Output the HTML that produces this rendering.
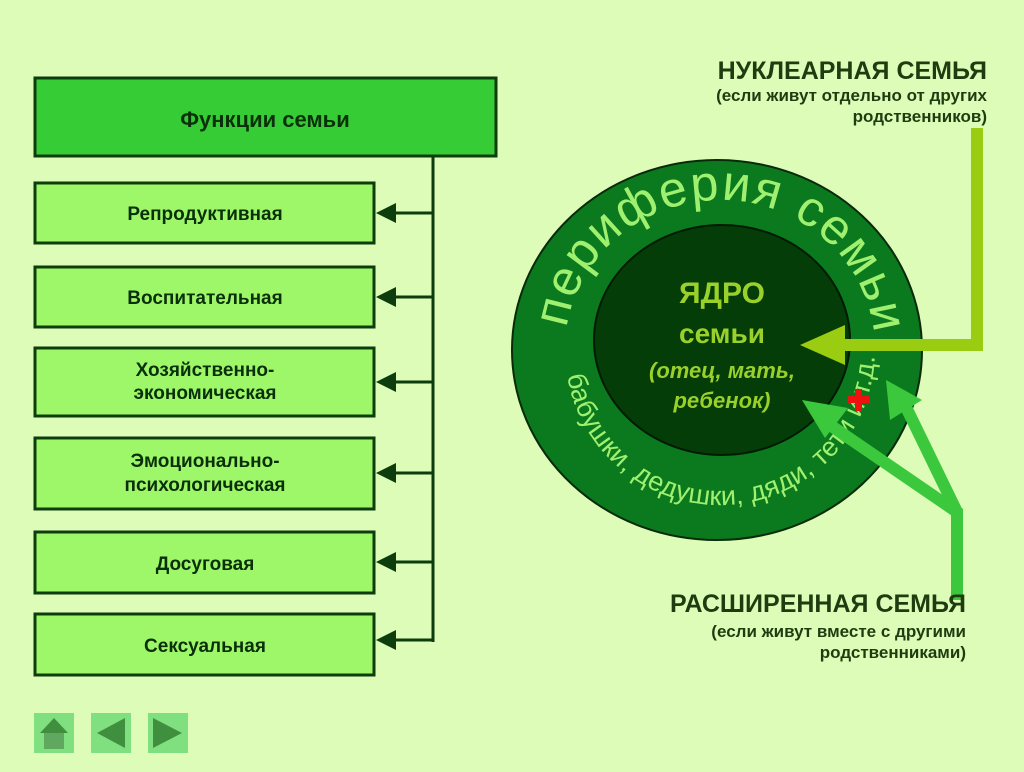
<!DOCTYPE html>
<html><head><meta charset="utf-8"><style>
body{margin:0;width:1024px;height:767px;overflow:hidden;background:#dcfcb8;font-family:"Liberation Sans",sans-serif}
</style></head><body>
<svg width="1024" height="767" viewBox="0 0 1024 767" xmlns="http://www.w3.org/2000/svg" font-family="Liberation Sans, sans-serif">
<rect width="1024" height="767" fill="#dcfcb8"/>
<rect x="35" y="78" width="461" height="78" fill="#36cc36" stroke="#0d3d0d" stroke-width="3"/>
<text x="265" y="127" text-anchor="middle" font-size="22" font-weight="bold" fill="#0a300a">Функции семьи</text>
<line x1="433" y1="156" x2="433" y2="642" stroke="#0d3d0d" stroke-width="3"/>
<g fill="#9ef768" stroke="#0d3d0d" stroke-width="3">
<rect x="35" y="183" width="339" height="60"/>
<rect x="35" y="267" width="339" height="60"/>
<rect x="35" y="348" width="339" height="68"/>
<rect x="35" y="438" width="339" height="71"/>
<rect x="35" y="532" width="339" height="61"/>
<rect x="35" y="614" width="339" height="61"/>
</g>
<g stroke="#0d3d0d" stroke-width="3">
<line x1="390" y1="213" x2="433" y2="213"/><line x1="390" y1="297" x2="433" y2="297"/>
<line x1="390" y1="382" x2="433" y2="382"/><line x1="390" y1="473" x2="433" y2="473"/>
<line x1="390" y1="562" x2="433" y2="562"/><line x1="390" y1="640" x2="433" y2="640"/>
</g>
<g fill="#0d3d0d">
<polygon points="376,213 396,203 396,223"/><polygon points="376,297 396,287 396,307"/>
<polygon points="376,382 396,372 396,392"/><polygon points="376,473 396,463 396,483"/>
<polygon points="376,562 396,552 396,572"/><polygon points="376,640 396,630 396,650"/>
</g>
<g font-size="19" font-weight="bold" fill="#0a300a" text-anchor="middle">
<text x="205" y="220">Репродуктивная</text>
<text x="205" y="304">Воспитательная</text>
<text x="205" y="376">Хозяйственно-</text><text x="205" y="399">экономическая</text>
<text x="205" y="467">Эмоционально-</text><text x="205" y="491">психологическая</text>
<text x="205" y="570">Досуговая</text>
<text x="205" y="652">Сексуальная</text>
</g>
<ellipse cx="717" cy="350" rx="205" ry="190" fill="#0b7a1e" stroke="#0a2a0a" stroke-width="2"/>
<ellipse cx="722" cy="340" rx="128" ry="115" fill="#043d08" stroke="#021a02" stroke-width="2"/>
<defs>
<path id="top" d="M565,350 A155,150 0 0 1 875,350"/>
<path id="bot" d="M566.5,371.6 A155,155 0 0 0 875,350"/>
</defs>
<text font-size="50" fill="#a0f070"><textPath href="#top" startOffset="22" textLength="440" lengthAdjust="spacing">периферия семьи</textPath></text>
<text font-size="27" fill="#a0f070"><textPath href="#bot" startOffset="4" textLength="455" lengthAdjust="spacing">бабушки, дедушки, дяди, тети и т.д.</textPath></text>
<g font-weight="bold" fill="#9ad02a" text-anchor="middle">
<text x="722" y="303" font-size="30">ЯДРО</text>
<text x="722" y="343" font-size="28">семьи</text>
<text x="722" y="378" font-size="22" font-style="italic">(отец, мать,</text>
<text x="722" y="408" font-size="22" font-style="italic">ребенок)</text>
</g>
<polyline points="977,128 977,345 842,345" fill="none" stroke="#9acd12" stroke-width="12"/>
<polygon points="800,345 845,325 845,365" fill="#9acd12"/>
<g stroke="#3cc83c" stroke-width="12" fill="none">
<polyline points="957,600 957,512 830,425"/>
<line x1="957" y1="512" x2="905" y2="405"/>
</g>
<polygon points="802,400 848,408 825,438" fill="#3cc83c"/>
<polygon points="886,380 922,400 890,420" fill="#3cc83c"/>
<g fill="#ee1111"><rect x="848" y="396" width="22" height="7"/><rect x="855" y="389" width="7" height="22"/></g>
<g fill="#1e3c10" font-weight="bold" text-anchor="end">
<text x="987" y="79" font-size="25">НУКЛЕАРНАЯ СЕМЬЯ</text>
<text x="987" y="101" font-size="17">(если живут отдельно от других</text>
<text x="987" y="122" font-size="17">родственников)</text>
<text x="966" y="612" font-size="25">РАСШИРЕННАЯ СЕМЬЯ</text>
<text x="966" y="637" font-size="17">(если живут вместе с другими</text>
<text x="966" y="658" font-size="17">родственниками)</text>
</g>
<rect x="34" y="713" width="40" height="40" fill="#80e080"/>
<polygon points="40,733 54,718 68,733" fill="#3f8f3f"/>
<rect x="44" y="733" width="20" height="16" fill="#60a860"/>
<rect x="91" y="713" width="40" height="40" fill="#80e080"/>
<polygon points="97,733 125,718 125,748" fill="#3f8f3f"/>
<rect x="148" y="713" width="40" height="40" fill="#80e080"/>
<polygon points="153,718 182,733 153,748" fill="#3f8f3f"/>
</svg>
</body></html>
